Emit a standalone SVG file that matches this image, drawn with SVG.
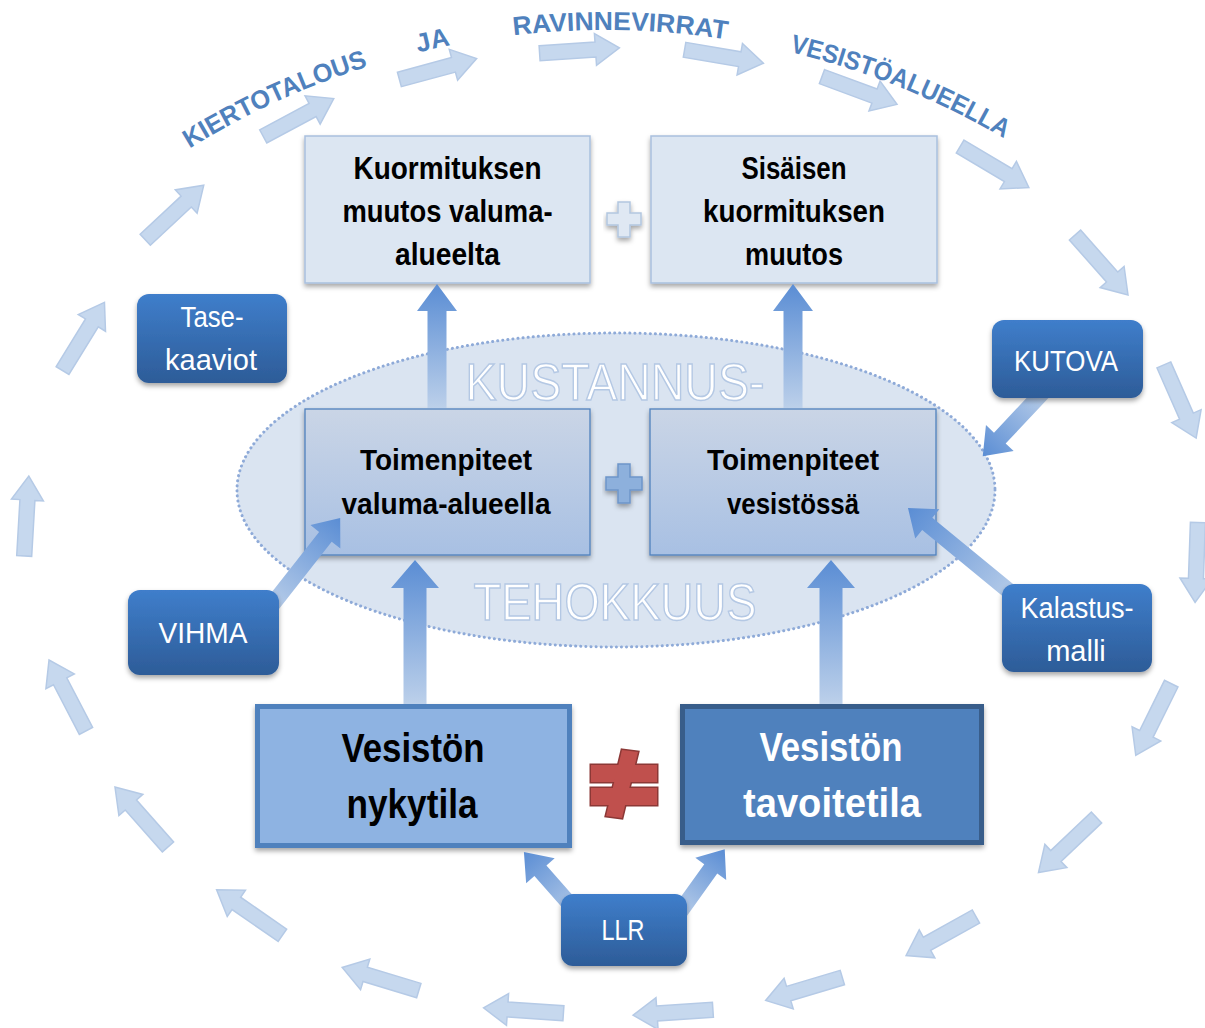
<svg xmlns="http://www.w3.org/2000/svg" xmlns:xlink="http://www.w3.org/1999/xlink" width="1205" height="1028" viewBox="0 0 1205 1028">
<style>
.arc{font-family:"Liberation Sans",Arial,sans-serif;font-weight:bold;font-size:26px;fill:#4f81bd}
.bt{font-family:"Liberation Sans",Arial,sans-serif;font-weight:bold;font-size:32px;fill:#000;text-anchor:middle}
.bm{font-family:"Liberation Sans",Arial,sans-serif;font-weight:bold;font-size:30px;fill:#000;text-anchor:middle}
.big{font-family:"Liberation Sans",Arial,sans-serif;font-weight:bold;font-size:40px;text-anchor:middle}
.st{font-family:"Liberation Sans",Arial,sans-serif;font-size:29px;fill:#fff;text-anchor:middle}
.ke{font-family:"Liberation Sans",Arial,sans-serif;font-size:52px;fill:#fff;stroke:#b4c8e4;stroke-width:1.5;text-anchor:middle}
.ca{fill:#c6d8ee;stroke:#b5cae6;stroke-width:1.5}
.sb{fill:url(#gsb);filter:url(#sh)}
</style>
<defs>
<filter id="sh" x="-10%" y="-10%" width="125%" height="140%"><feDropShadow dx="0" dy="3" stdDeviation="2.5" flood-color="#000" flood-opacity="0.35"/></filter>
<linearGradient id="gsb" x1="0" y1="0" x2="0" y2="1"><stop offset="0" stop-color="#3f7ecb"/><stop offset="1" stop-color="#2d5c98"/></linearGradient>
<linearGradient id="gmid" x1="0" y1="0" x2="0" y2="1"><stop offset="0" stop-color="#cad5e6"/><stop offset="1" stop-color="#a8c0e3"/></linearGradient>
<linearGradient id="garr" x1="0" y1="0" x2="1" y2="0"><stop offset="0" stop-color="#bcd0ea"/><stop offset="1" stop-color="#5a8dd4"/></linearGradient>
<path id="carr" d="M-40,-7.5 H16 V-16 L40,0 L16,16 V7.5 H-40 Z"/>
<path id="arcp" d="M-183,818 A788,788 0 0 1 1393,818"/>
</defs>
<rect width="1205" height="1028" fill="#fff"/>

<g id="cycle-arrows" class="ca">
<use href="#carr" transform="translate(298.5,117.5) rotate(-28.2)"/>
<use href="#carr" transform="translate(438,69) rotate(-15.1)"/>
<use href="#carr" transform="translate(579.5,50.5) rotate(-3.8)"/>
<use href="#carr" transform="translate(724,56.5) rotate(9.7)"/>
<use href="#carr" transform="translate(859.5,90.5) rotate(20.3)"/>
<use href="#carr" transform="translate(994.5,167) rotate(30.8)"/>
<use href="#carr" transform="translate(1101.5,265) rotate(48.5)"/>
<use href="#carr" transform="translate(1180,401.5) rotate(66.2)"/>
<use href="#carr" transform="translate(1196.5,562.5) rotate(92)"/>
<use href="#carr" transform="translate(1153.5,719.5) rotate(116.3)"/>
<use href="#carr" transform="translate(1067.5,845) rotate(136.5)"/>
<use href="#carr" transform="translate(941,936) rotate(150.8)"/>
<use href="#carr" transform="translate(804,989) rotate(163.4)"/>
<use href="#carr" transform="translate(673,1012.5) rotate(176.2)"/>
<use href="#carr" transform="translate(523.5,1010.5) rotate(183.8)"/>
<use href="#carr" transform="translate(380.5,979) rotate(196.8)"/>
<use href="#carr" transform="translate(249.5,912.5) rotate(214.7)"/>
<use href="#carr" transform="translate(141.5,817) rotate(228.5)"/>
<use href="#carr" transform="translate(67.5,695.5) rotate(242.5)"/>
<use href="#carr" transform="translate(26.5,516) rotate(273.3)"/>
<use href="#carr" transform="translate(83.5,336.5) rotate(301.6)"/>
<use href="#carr" transform="translate(174.5,212.5) rotate(317)"/>
</g>

<g id="title">
<text class="arc"><textPath href="#arcp" startOffset="800" textLength="197" lengthAdjust="spacingAndGlyphs">KIERTOTALOUS</textPath></text>
<text class="arc"><textPath href="#arcp" startOffset="1049">JA</textPath></text>
<text class="arc"><textPath href="#arcp" startOffset="1146" textLength="214" lengthAdjust="spacingAndGlyphs">RAVINNEVIRRAT</textPath></text>
<text class="arc"><textPath href="#arcp" startOffset="1424" textLength="232" lengthAdjust="spacingAndGlyphs">VESISTÖALUEELLA</textPath></text>
</g>

<g id="efficiency-ellipse">
<ellipse cx="616" cy="490" rx="379" ry="157" fill="#dae4f1" stroke="#8eaad8" stroke-width="3" stroke-dasharray="0.1 5" stroke-linecap="round"/>
<text class="ke" x="615" y="400" textLength="299" lengthAdjust="spacingAndGlyphs">KUSTANNUS-</text>
<text class="ke" x="615" y="620" textLength="283" lengthAdjust="spacingAndGlyphs">TEHOKKUUS</text>
</g>

<g id="kuormitus-valuma">
<rect x="305" y="136" width="285" height="147" fill="#dce6f2" stroke="#a9c0de" stroke-width="1.5" filter="url(#sh)"/>
<text class="bt" x="447.5" y="179" textLength="188" lengthAdjust="spacingAndGlyphs">Kuormituksen</text>
<text class="bt" x="447.5" y="222" textLength="210" lengthAdjust="spacingAndGlyphs">muutos valuma-</text>
<text class="bt" x="447.5" y="265" textLength="105" lengthAdjust="spacingAndGlyphs">alueelta</text>
</g>
<g id="plus-top">
<path d="M618,202 H630 V213 H641 V225 H630 V237 H618 V225 H607 V213 H618 Z" fill="#dfe8f3" stroke="#b3c6df" stroke-width="1.5" filter="url(#sh)"/>
</g>
<g id="sisainen-kuormitus">
<rect x="651" y="136" width="286" height="147" fill="#dce6f2" stroke="#a9c0de" stroke-width="1.5" filter="url(#sh)"/>
<text class="bt" x="794" y="179" textLength="105" lengthAdjust="spacingAndGlyphs">Sisäisen</text>
<text class="bt" x="794" y="222" textLength="182" lengthAdjust="spacingAndGlyphs">kuormituksen</text>
<text class="bt" x="794" y="265" textLength="98" lengthAdjust="spacingAndGlyphs">muutos</text>
</g>

<g id="toimenpiteet-valuma">
<rect x="305" y="409" width="285" height="146" fill="url(#gmid)" stroke="#4f81bd" stroke-width="1.3" filter="url(#sh)"/>
<text class="bm" x="446" y="470" textLength="172" lengthAdjust="spacingAndGlyphs">Toimenpiteet</text>
<text class="bm" x="446" y="514" textLength="209" lengthAdjust="spacingAndGlyphs">valuma-alueella</text>
</g>
<g id="plus-mid">
<path d="M618,464 H630 V477 H642 V490 H630 V503 H618 V490 H606 V477 H618 Z" fill="#8db0dc" stroke="#6c95c9" stroke-width="1.5" filter="url(#sh)"/>
</g>
<g id="toimenpiteet-vesisto">
<rect x="650" y="409" width="286" height="146" fill="url(#gmid)" stroke="#4f81bd" stroke-width="1.3" filter="url(#sh)"/>
<text class="bm" x="793" y="470" textLength="172" lengthAdjust="spacingAndGlyphs">Toimenpiteet</text>
<text class="bm" x="793" y="514" textLength="132" lengthAdjust="spacingAndGlyphs">vesistössä</text>
</g>

<g id="nykytila">
<rect x="257.5" y="706.5" width="312" height="139" fill="#8eb3e2" stroke="#4f81bd" stroke-width="5" filter="url(#sh)"/>
<text class="big" x="413" y="762" fill="#000" textLength="143" lengthAdjust="spacingAndGlyphs">Vesistön</text>
<text class="big" x="412" y="818" fill="#000" textLength="131" lengthAdjust="spacingAndGlyphs">nykytila</text>
</g>
<g id="neq">
<g stroke="#8c3836" stroke-width="3" fill="#c0504d">
<rect x="591" y="765" width="66" height="17"/>
<rect x="591" y="788" width="66" height="17"/>
<path d="M622,750 L638,752 L622,818 L606,816 Z"/>
</g>
<g fill="#c0504d">
<rect x="591" y="765" width="66" height="17"/>
<rect x="591" y="788" width="66" height="17"/>
<path d="M622,750 L638,752 L622,818 L606,816 Z"/>
</g>
</g>
<g id="tavoitetila">
<rect x="682.5" y="706.5" width="299" height="136" fill="#4f81bd" stroke="#385d8a" stroke-width="5" filter="url(#sh)"/>
<text class="big" x="831" y="761" fill="#fff" textLength="143" lengthAdjust="spacingAndGlyphs">Vesistön</text>
<text class="big" x="832" y="817" fill="#fff" textLength="178" lengthAdjust="spacingAndGlyphs">tavoitetila</text>
</g>

<g id="connectors" fill="url(#garr)">
<path transform="translate(437,408) rotate(-90)" d="M0,-9.5 H97 V-20 L124,0 L97,20 V9.5 H0 Z"/>
<path transform="translate(793,408) rotate(-90)" d="M0,-9.5 H97 V-20 L124,0 L97,20 V9.5 H0 Z"/>
<path transform="translate(415,704) rotate(-90)" d="M0,-11.5 H116 V-24 L144,0 L116,24 V11.5 H0 Z"/>
<path transform="translate(831,704) rotate(-90)" d="M0,-11.5 H116 V-24 L144,0 L116,24 V11.5 H0 Z"/>
<path transform="translate(268,610) rotate(-51.9)" d="M0,-8 H93 V-19 L117,0 L93,19 V8 H0 Z"/>
<path transform="translate(1045,390) rotate(133.2)" d="M0,-8 H66 V-19 L91,0 L66,19 V8 H0 Z"/>
<path transform="translate(1020,600) rotate(-140.6)" d="M0,-8 H120 V-19 L145,0 L120,19 V8 H0 Z"/>
<path transform="translate(582,918) rotate(-131.3)" d="M0,-8 H63 V-19 L88,0 L63,19 V8 H0 Z"/>
<path transform="translate(677,916) rotate(-54.4)" d="M0,-8 H58 V-19 L82,0 L58,19 V8 H0 Z"/>
</g>

<g id="tase-kaaviot">
<rect class="sb" x="137" y="294" width="150" height="89" rx="12"/>
<text class="st" x="212" y="327" textLength="63" lengthAdjust="spacingAndGlyphs">Tase-</text>
<text class="st" x="211" y="370">kaaviot</text>
</g>
<g id="vihma">
<rect class="sb" x="128" y="590" width="151" height="85" rx="12"/>
<text class="st" x="203" y="643" textLength="89" lengthAdjust="spacingAndGlyphs">VIHMA</text>
</g>
<g id="kutova">
<rect class="sb" x="992" y="320" width="151" height="78" rx="12"/>
<text class="st" x="1066" y="371" textLength="104" lengthAdjust="spacingAndGlyphs">KUTOVA</text>
</g>
<g id="kalastusmalli">
<rect class="sb" x="1002" y="584" width="150" height="88" rx="12"/>
<text class="st" x="1077" y="618" textLength="113" lengthAdjust="spacingAndGlyphs">Kalastus-</text>
<text class="st" x="1076" y="661">malli</text>
</g>
<g id="llr">
<rect class="sb" x="561" y="894" width="126" height="72" rx="12"/>
<text class="st" x="623" y="940" textLength="43" lengthAdjust="spacingAndGlyphs">LLR</text>
</g>
</svg>
